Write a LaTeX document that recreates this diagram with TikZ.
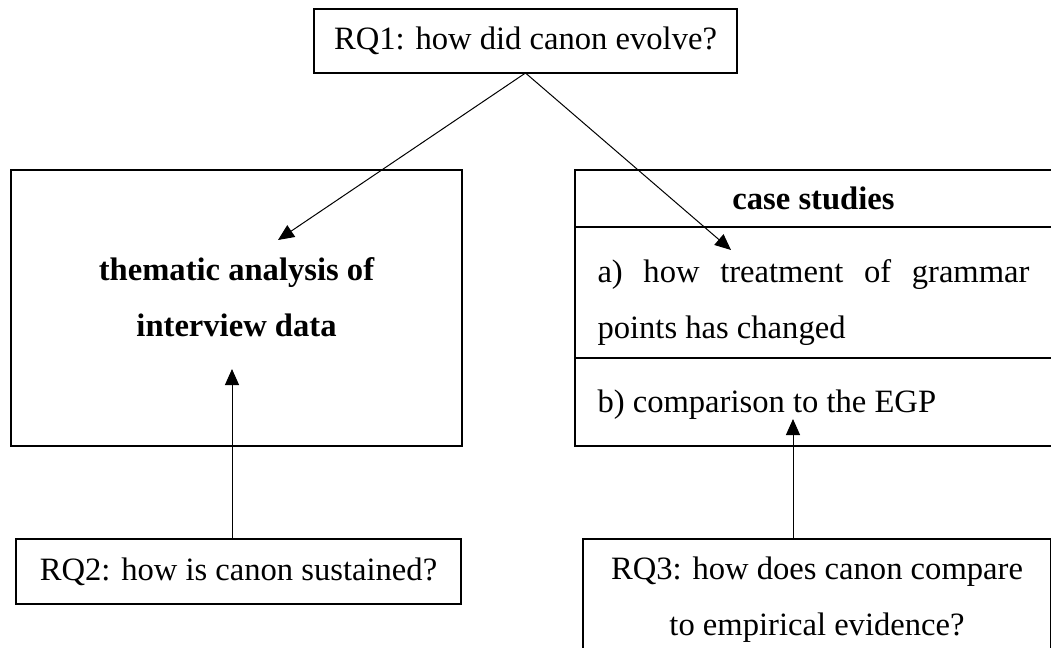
\documentclass[tikz,border=0pt]{standalone}
\usepackage{fontspec}
\setmainfont{Liberation Serif}
\usetikzlibrary{arrows.meta,positioning}
\begin{document}
\begin{tikzpicture}[x=0.5pt,y=-0.5pt]
    \tikzset{
        box/.style={draw, rectangle, line width=0.9pt, inner sep=0pt, outer sep=0pt, font=\fontsize{16.3}{28}\selectfont},
        boldbox/.style={box, font=\fontsize{16.3}{28}\selectfont\bfseries},
        part/.style={box, text width=216pt, inner xsep=11.25pt, align=justify},
        arc/.style={-{Triangle[length=8pt,width=7pt]}, line width=0.5pt}
    }
    \useasboundingbox (0,0) rectangle (1051,648);
    \clip (0,0) rectangle (1051,648);
    \draw node[box, minimum width=211.5pt, minimum height=32pt] (rqone) at (525.5,41) {RQ1: how did canon evolve?};
    \draw node[boldbox, minimum width=225.5pt, minimum height=138pt, align=center, text height=28.5pt, text depth=0.5pt] (thematic) at (236.5,308) {thematic analysis of\\interview data};
    \draw node[boldbox, minimum width=238.5pt, minimum height=28.5pt] (cases) at (813.5,198.5) {case studies};
    \draw node[part, below=0pt of cases, minimum height=65.5pt, text height=21.5pt, text depth=32pt] (casea) {a) how treatment of grammar points has changed};
    \draw node[part, below=0pt of casea, minimum height=44pt, text height=13.5pt, text depth=3.5pt] (caseb) {b) comparison to the EGP};
    \draw node[box, minimum width=222.5pt, minimum height=32.5pt] (rqtwo) at (238.5,571.5) {RQ2: how is canon sustained?};
    \draw node[box, minimum width=234pt, minimum height=61pt, align=center] (rqthree) at (817,600) {RQ3: how does canon compare\\to empirical evidence?};
    \coordinate (tipa) at (278,240);
    \coordinate (tipb) at (731,250);
    \coordinate (tipc) at (232,369);
    \coordinate (tipd) at (793,419);
    \foreach \y in {tipa, tipb}{
        \draw[arc] (rqone.south) -- (\y);
    }
    \draw[arc] (tipc |- rqtwo.north) -- (tipc);
    \draw[arc] (tipd |- rqthree.north) -- (tipd);
\end{tikzpicture}
\end{document}
